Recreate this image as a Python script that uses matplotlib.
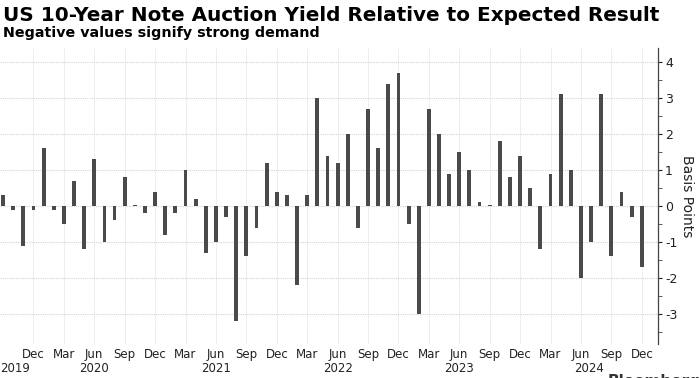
import matplotlib
matplotlib.use("Agg")
import matplotlib.pyplot as plt
import matplotlib.transforms as mtransforms
from matplotlib.ticker import MultipleLocator

# ---- data ----
month_names = ["Jan", "Feb", "Mar", "Apr", "May", "Jun",
               "Jul", "Aug", "Sep", "Oct", "Nov", "Dec"]
start_year = 2019
start_month = 9  # September 2019
values = [
    # 2019 Sep-Dec
    0.3, -0.1, -1.1, -0.1,
    # 2020
    1.6, -0.1, -0.5, 0.7, -1.2, 1.3, -1.0, -0.4, 0.8, 0.02, -0.2, 0.4,
    # 2021
    -0.8, -0.2, 1.0, 0.2, -1.3, -1.0, -0.3, -3.2, -1.4, -0.6, 1.2, 0.4,
    # 2022
    0.3, -2.2, 0.3, 3.0, 1.4, 1.2, 2.0, -0.6, 2.7, 1.6, 3.4, 3.7,
    # 2023
    -0.5, -3.0, 2.7, 2.0, 0.9, 1.5, 1.0, 0.1, 0.02, 1.8, 0.8, 1.4,
    # 2024
    0.5, -1.2, 0.9, 3.1, 1.0, -2.0, -1.0, 3.1, -1.4, 0.4, -0.3, -1.7,
]
year_labels = ["2019", "2020", "2021", "2022", "2023", "2024"]
yticks = [-3, -2, -1, 0, 1, 2, 3, 4]
title = "US 10-Year Note Auction Yield Relative to Expected Result"
subtitle = "Negative values signify strong demand"

# month/year of each bar
months = []
years = []
for i in range(len(values)):
    m = (start_month - 1 + i) % 12
    y = start_year + (start_month - 1 + i) // 12
    months.append(m)
    years.append(y)
x = list(range(len(values)))

W, H = 700, 378
fig = plt.figure(figsize=(W / 100, H / 100), dpi=100)
ax = fig.add_axes([0.0, 0.09, 0.94, 0.783])

ax.bar(x, values, width=0.38, color="#4a4a4a", zorder=3)

ax.set_xlim(-0.3, len(values) + 0.6)
ax.set_ylim(-3.83, 4.39)

# quarterly ticks (starting at first December)
qt = [i for i in x if months[i] in (2, 5, 8, 11) and i > 0]
ax.set_xticks(qt)
ax.set_xticklabels([month_names[months[i]] for i in qt])
ax.tick_params(axis="x", length=0, pad=3, labelsize=8.5, colors="#222222")

# year labels
trans = mtransforms.blended_transform_factory(ax.transData, ax.transAxes)
for yl in year_labels:
    yr = int(yl)
    idx = [i for i in x if years[i] == yr]
    if yr == start_year:
        pos = idx[0] + 1.2
    else:
        jun = [i for i in idx if months[i] == 5][0]
        pos = jun + (0.8 if yr == 2024 else 0)
    ax.text(pos, -0.06, yl, transform=trans, ha="center", va="top",
            fontsize=8.5, color="#222222")

ax.yaxis.tick_right()
ax.yaxis.set_label_position("right")
ax.set_yticks(yticks)
ax.set_yticklabels([str(v) for v in yticks])
ax.yaxis.set_minor_locator(MultipleLocator(0.5))
ax.tick_params(axis="y", which="major", direction="out", length=3, width=0.8,
               pad=2, labelsize=9, colors="#222222")
ax.tick_params(axis="y", which="minor", direction="out", length=3, width=0.6,
               colors="#444444")
ax.set_ylabel("Basis Points", rotation=270, labelpad=12, fontsize=10,
              color="#222222")

for s in ("top", "left", "bottom"):
    ax.spines[s].set_visible(False)
ax.spines["right"].set_color("#444444")
ax.spines["right"].set_linewidth(0.9)

ax.grid(axis="y", which="major", color="#d4d4d4", linestyle=(0, (1, 1)),
        linewidth=0.8, zorder=0)
ax.grid(axis="x", which="major", color="#dddddd", linestyle=(0, (1, 1)),
        linewidth=0.7, zorder=0)

t1 = fig.text(3 / W, 1 - 21 / H, title, ha="left", va="baseline",
              fontsize=13, fontweight="bold", color="black")
t2 = fig.text(3 / W, 1 - 37.5 / H, subtitle, ha="left", va="baseline",
              fontsize=9, fontweight="bold", color="black")
t3 = fig.text(608 / W, 1 - 386 / H, "Bloomberg", ha="left", va="baseline",
              fontsize=11, fontweight="bold", color="#333333")

# fit title/subtitle widths to the reference layout
fig.canvas.draw()
r = fig.canvas.get_renderer()
for t, target in ((t1, 652), (t2, 313)):
    w = t.get_window_extent(r).width
    t.set_fontsize(t.get_fontsize() * target / w)

fig.savefig("out.png", dpi=100)
